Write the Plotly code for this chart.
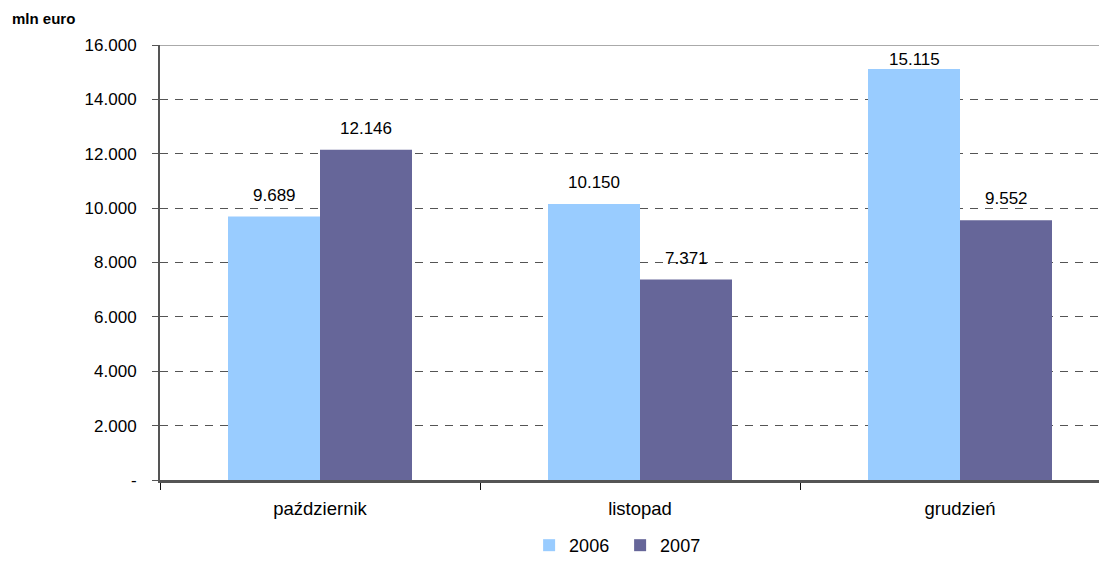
import plotly.graph_objects as go

categories = ["październik", "listopad", "grudzień"]
series_names = ["2006", "2007"]
values_2006 = [9689, 10150, 15115]
values_2007 = [12146, 7371, 9552]
value_labels_2006 = ["9.689", "10.150", "15.115"]
value_labels_2007 = ["12.146", "7.371", "9.552"]
y_tickvals = [0, 2000, 4000, 6000, 8000, 10000, 12000, 14000, 16000]
y_ticktext = ["-", "2.000", "4.000", "6.000", "8.000", "10.000", "12.000", "14.000", "16.000"]

font = "Liberation Sans, Arial, sans-serif"
colors = ["#99CCFF", "#666699"]

# page body has an 8px default margin; figure is sized so the page does not overflow
W, H = 1091, 547
L, T = 152, 37
PLOT_H = 435
B = H - T - PLOT_H
PLOT_W = W - L
PX_PER_CAT = 320
Y_MAX = 16000

fig = go.Figure()
for name, vals, col in zip(series_names, [values_2006, values_2007], colors):
    fig.add_trace(go.Bar(x=categories, y=vals, name=name,
                         marker=dict(color=col, line=dict(width=0))))

# data labels above the bars (pushed down when close to the plot top)
for vals, labels, shift in [(values_2006, value_labels_2006, -46), (values_2007, value_labels_2007, 46)]:
    for cat, v, lab in zip(categories, vals, labels):
        room = (Y_MAX - v) / Y_MAX * PLOT_H
        ys = min(10, room - 26)
        fig.add_annotation(x=cat, y=v, text=lab, xref="x", yref="y", showarrow=False,
                           xshift=shift, yshift=ys, yanchor="bottom",
                           font=dict(size=17, color="black"))

fig.update_layout(
    width=W, height=H,
    margin=dict(l=L, r=0, t=T, b=B, autoexpand=False),
    paper_bgcolor="white", plot_bgcolor="white",
    barmode="group", bargap=0.425, bargroupgap=0,
    font=dict(family=font, size=17, color="black"),
    showlegend=True,
    legend=dict(orientation="h", x=0.49, xanchor="center", xref="paper",
                y=-0.108, yanchor="top", font=dict(size=18),
                itemwidth=30, entrywidth=46, traceorder="normal"),
    xaxis=dict(range=[-0.5, -0.5 + PLOT_W / PX_PER_CAT], showgrid=False, showline=True,
               linecolor="#555555", linewidth=3, ticks="outside",
               tickson="boundaries", ticklen=7, tickcolor="#111111",
               tickfont=dict(size=18.5), ticklabelstandoff=10,
               automargin=False, fixedrange=True),
    yaxis=dict(range=[0, Y_MAX], tickvals=y_tickvals, ticktext=y_ticktext,
               showgrid=True, gridcolor="#555555", griddash="8px,7px",
               gridwidth=1, showline=True, linecolor="#555555", linewidth=2,
               ticks="outside", ticklen=6, tickcolor="#555555",
               tickfont=dict(size=17), ticklabelstandoff=12,
               automargin=False, zeroline=False),
)
fig.add_annotation(text="<b>mln euro</b>", xref="paper", yref="paper",
                   x=(2 - L) / PLOT_W, y=1 + (T - 10) / PLOT_H, xanchor="left", yanchor="middle",
                   showarrow=False, font=dict(size=15, color="black"))
fig.add_shape(type="line", xref="paper", yref="y", x0=0, x1=1, y0=Y_MAX, y1=Y_MAX,
              line=dict(color="#AAAAAA", width=2), layer="above")

fig.write_html("out.html")
